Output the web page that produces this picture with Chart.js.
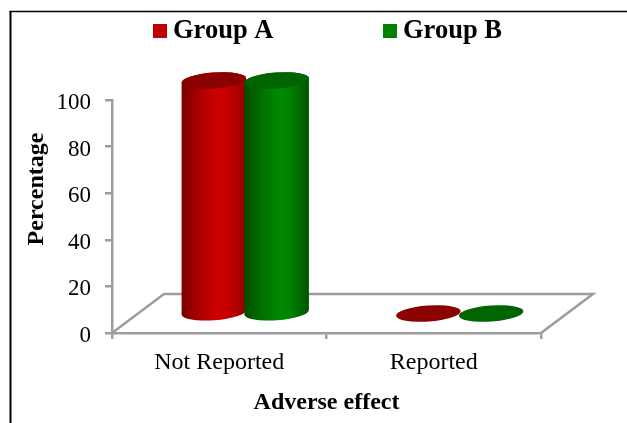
<!DOCTYPE html>
<html>
<head>
<meta charset="utf-8">
<title>Adverse effect</title>
<script src="https://cdn.jsdelivr.net/npm/chart.js@4/dist/chart.umd.min.js"></script>
<style>
  html, body { margin: 0; background: #fff; overflow: hidden; }
  canvas { display: block; }
</style>
</head>
<body>
<canvas id="effectChart" width="627" height="423"></canvas>
<script>
const categories = ['Not Reported', 'Reported'];
const groupNames = ['Group A', 'Group B'];
const groupA = [100, 0];
const groupB = [100, 0];
const yTicks = [0, 20, 40, 60, 80, 100];
const yTitle = 'Percentage';
const xTitle = 'Adverse effect';

const SERIF = '"Liberation Serif", "Times New Roman", serif';
const AXIS_GREY = '#9c9c9c';

// side shading and lid colour of each cylinder, legend swatch in backgroundColor
const shades = [
  { side: ['#780000', '#b00000', '#cc0000', '#c40000', '#960000'], lid: '#8b0000' },
  { side: ['#004c00', '#007400', '#008a00', '#008000', '#005400'], lid: '#006400' }
];

// floor depth, the bars stand half way back
const DEPTH_X = 52;
const DEPTH_Y = 39;
const TILT = -4 * Math.PI / 180;
const LID_RY = 8;

function drawFloor(ctx, area) {
  ctx.strokeStyle = AXIS_GREY;
  ctx.lineWidth = 2.5;
  ctx.beginPath();
  ctx.moveTo(area.left, area.bottom);
  ctx.lineTo(area.left + DEPTH_X, area.bottom - DEPTH_Y);
  ctx.lineTo(area.right + DEPTH_X, area.bottom - DEPTH_Y);
  ctx.lineTo(area.right, area.bottom);
  ctx.stroke();
}

function drawCylinder(ctx, bar, shade) {
  const cx = bar.x + DEPTH_X / 2;
  const top = bar.y - DEPTH_Y / 2;
  const base = bar.base - DEPTH_Y / 2;
  const rx = bar.width / 2 + 1;

  if (base - top > 0.5) {
    const grad = ctx.createLinearGradient(cx - rx, 0, cx + rx, 0);
    shade.side.forEach((c, i) => grad.addColorStop([0, 0.3, 0.55, 0.72, 1][i], c));
    ctx.fillStyle = grad;
    ctx.beginPath();
    ctx.ellipse(cx, base, rx, LID_RY, TILT, 0, Math.PI);
    ctx.ellipse(cx, top, rx, LID_RY, TILT, Math.PI, Math.PI * 2);
    ctx.closePath();
    ctx.fill();
  }

  ctx.fillStyle = shade.lid;
  ctx.beginPath();
  ctx.ellipse(cx, top, rx, LID_RY, TILT, 0, Math.PI * 2);
  ctx.fill();
}

function drawLegend(chart) {
  const ctx = chart.ctx;
  const startX = [153, 383];
  ctx.font = 'bold 26.5px ' + SERIF;
  ctx.textBaseline = 'middle';
  ctx.textAlign = 'left';
  chart.data.datasets.forEach((ds, i) => {
    ctx.fillStyle = ds.backgroundColor;
    ctx.fillRect(startX[i], 24, 14, 14);
    ctx.fillStyle = '#000';
    ctx.fillText(ds.label, startX[i] + 20, 31);
  });
}

const cylinders = {
  id: 'cylinders',
  beforeDatasetsDraw(chart) {
    const ctx = chart.ctx;
    ctx.save();
    drawFloor(ctx, chart.chartArea);
    chart.data.datasets.forEach((ds, i) => {
      chart.getDatasetMeta(i).data.forEach(bar => drawCylinder(ctx, bar, shades[i]));
    });
    ctx.restore();
  },
  // the cylinders above replace the flat rectangles
  beforeDatasetDraw() {
    return false;
  },
  afterDraw(chart) {
    const ctx = chart.ctx;
    ctx.save();
    drawLegend(chart);

    // y title sits higher than the middle of the axis
    ctx.save();
    ctx.translate(37, 189);
    ctx.rotate(-Math.PI / 2);
    ctx.font = 'bold 24px ' + SERIF;
    ctx.textAlign = 'center';
    ctx.textBaseline = 'middle';
    ctx.fillStyle = '#000';
    ctx.fillText(yTitle, 0, 0);
    ctx.restore();

    // frame, top and left only
    ctx.strokeStyle = '#000';
    ctx.lineWidth = 2;
    ctx.beginPath();
    ctx.moveTo(10.5, 423);
    ctx.lineTo(10.5, 11);
    ctx.stroke();
    ctx.lineWidth = 1.5;
    ctx.beginPath();
    ctx.moveTo(9.5, 11.5);
    ctx.lineTo(627, 11.5);
    ctx.stroke();
    ctx.restore();
  }
};

new Chart(document.getElementById('effectChart'), {
  type: 'bar',
  data: {
    labels: categories,
    datasets: [
      { label: groupNames[0], data: groupA, backgroundColor: '#c00000' },
      { label: groupNames[1], data: groupB, backgroundColor: '#008000' }
    ]
  },
  options: {
    responsive: false,
    animation: false,
    events: [],
    layout: { padding: { left: 20, right: 86, top: 100, bottom: 6 } },
    datasets: { bar: { barPercentage: 1, categoryPercentage: 0.585 } },
    scales: {
      x: {
        afterFit: s => { s.height = 84; },
        grid: { drawOnChartArea: false, color: AXIS_GREY, lineWidth: 2.5, tickLength: 6 },
        border: { color: AXIS_GREY, width: 2.5 },
        ticks: { color: '#000', font: { family: SERIF, size: 24 }, padding: 9, maxRotation: 0 },
        title: {
          display: true,
          text: xTitle,
          color: '#000',
          font: { family: SERIF, size: 24, weight: 'bold' },
          padding: 0
        }
      },
      y: {
        min: 0,
        max: 100,
        afterFit: s => { s.width = 92; },
        afterBuildTicks: s => { s.ticks = yTicks.map(value => ({ value })); },
        grid: { drawOnChartArea: false, color: AXIS_GREY, lineWidth: 2.5, tickLength: 7 },
        border: { color: AXIS_GREY, width: 2.5 },
        ticks: { color: '#000', font: { family: SERIF, size: 23 }, padding: 14, labelOffset: 3 }
      }
    },
    plugins: {
      legend: { display: false },
      tooltip: { enabled: false }
    }
  },
  plugins: [cylinders]
});
</script>
</body>
</html>
